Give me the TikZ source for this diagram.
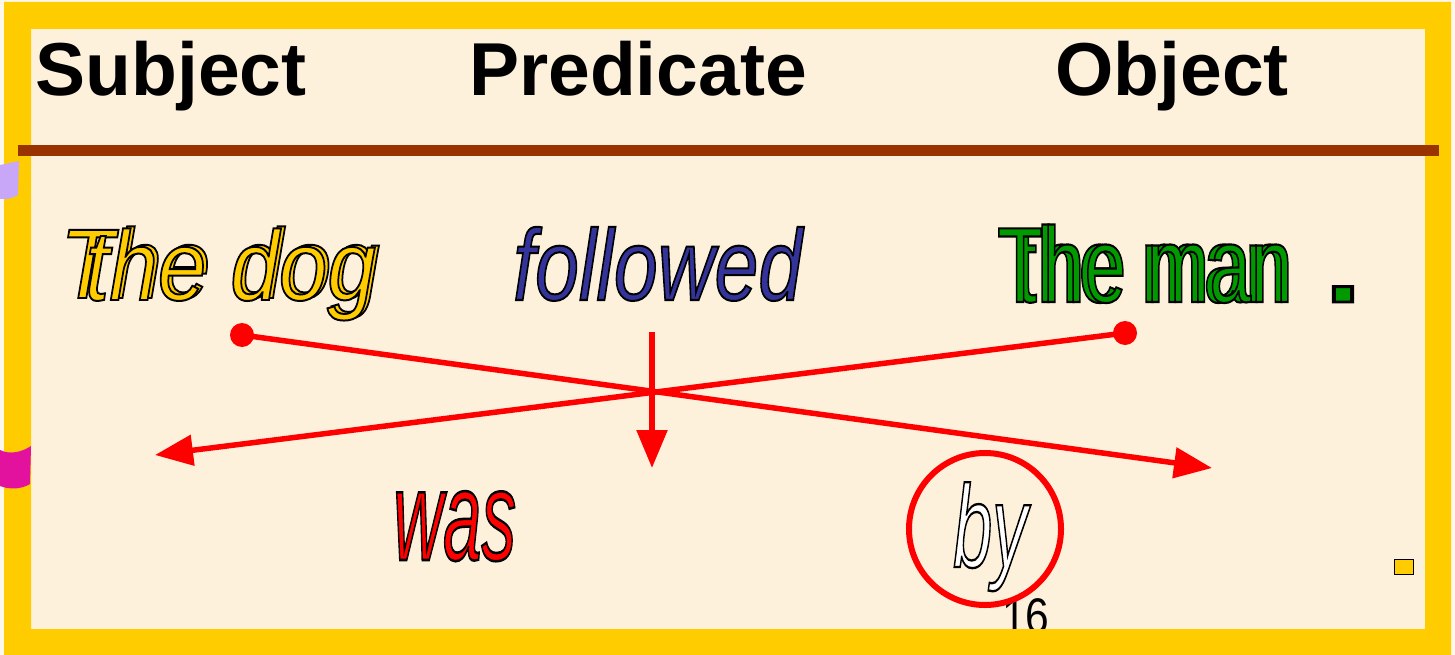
\documentclass[tikz,border=0pt]{standalone}
\usepackage{fontspec}
\setmainfont{Liberation Sans}
\newfontfamily\olsans[FakeBold=2]{Liberation Sans}
\usepackage{graphicx}
\usetikzlibrary{arrows.meta}
\definecolor{frameyellow}{HTML}{FFCC00}
\definecolor{cream}{HTML}{FDF1DC}
\definecolor{outercream}{HTML}{FDF6EA}
\definecolor{brownline}{HTML}{993300}
\definecolor{wordblue}{HTML}{333399}
\definecolor{wordgreen}{HTML}{009900}
\definecolor{lilac}{HTML}{C8A6F8}
\definecolor{magentatab}{HTML}{E2129E}
\newcommand{\wordart}[5]{\scalebox{#3}[1]{\fontsize{#2}{#2}\selectfont\olsans#4\textcolor{#1}{\special{pdf:code 0 0 0 RG}#5}}}
\tikzset{
  hdr/.style={anchor=base, inner sep=0pt, font=\fontsize{75}{75}\selectfont\bfseries},
  word/.style={inner sep=0pt},
  redline/.style={draw=red, line width=5.5pt},
  arr/.style={redline, -{Triangle[length=38pt,width=30pt]}},
  dot/.style={circle, fill=red, minimum size=24pt, inner sep=0pt},
}
\begin{document}
\begin{tikzpicture}[x=1pt, y=-1pt]
\useasboundingbox (0,0) rectangle (1455,655);
\fill[outercream] (0,0) rectangle (1455,655);
\fill[cream] (31,29) rectangle (1425,629);
% headers
\node[hdr] (subj) at (171,96) {Subject};
\node[hdr] (pred) at (638,96) {Predicate};
\node[hdr] (obj) at (1172,96) {Object};
% words
\node[word, anchor=base west] (dogA) at (60,298) {\wordart{frameyellow}{99}{0.88}{\itshape}{The dog}};
\node[word, anchor=base east] (dogB) at (376,300) {\wordart{frameyellow}{99}{0.88}{\itshape}{the dog}};
\node[word, anchor=base west] (verb) at (513,300) {\wordart{wordblue}{101}{0.78}{\itshape}{followed}};
\node[word, anchor=base east] (manB) at (1287,302) {\wordart{wordgreen}{107}{0.70}{}{the man}};
\node[word, anchor=base west] (manA) at (997,302) {\wordart{wordgreen}{107}{0.70}{}{The man}};
\node[word, anchor=base] (stop) at (1343,302) {\wordart{wordgreen}{144}{1.33}{}{.}};
\node[word, anchor=base west] (was) at (393,560) {\wordart{red}{128}{0.54}{\itshape}{was}};
\node[word, anchor=base west] (page) at (1002,633) {\scalebox{0.85}[1]{\fontsize{50}{50}\selectfont 16}};
\node[word, anchor=base west] (by) at (953,567) {\wordart{white}{117}{0.6}{\itshape}{by}};
\node[draw=red, line width=6pt, circle, minimum size=152pt, inner sep=0pt] (ring) at (985,529) {};
% frame
\fill[frameyellow, even odd rule] (4,2) rectangle (1451,655) (31,29) rectangle (1425,629);
\draw[brownline, line width=11pt] (18,151) -- (1439,151);
\fill[lilac] (0,165) -- (19,161) -- (18,195) .. controls (10,199) .. (0,199) -- cycle;
\fill[magentatab] (0,450) .. controls (10,455) and (22,452) .. (31,446) -- (30,484) .. controls (22,489) and (10,490) .. (0,486) -- cycle;
\node[draw=black, line width=1.5pt, fill=frameyellow, minimum width=19pt, minimum height=15pt, inner sep=0pt] (tag) at (1404,567) {};
% arrows
\node[dot] (d1) at (242,335) {};
\node[dot] (d2) at (1125,333) {};
\coordinate (t1) at (1212,468);
\coordinate (t2) at (155,455);
\coordinate (v0) at (652,332);
\coordinate (v1) at (652,468);
\draw[arr] (d1.center) -- (t1);
\draw[arr] (d2.center) -- (t2);
\draw[arr] (v0) -- (v1);
\end{tikzpicture}
\end{document}
